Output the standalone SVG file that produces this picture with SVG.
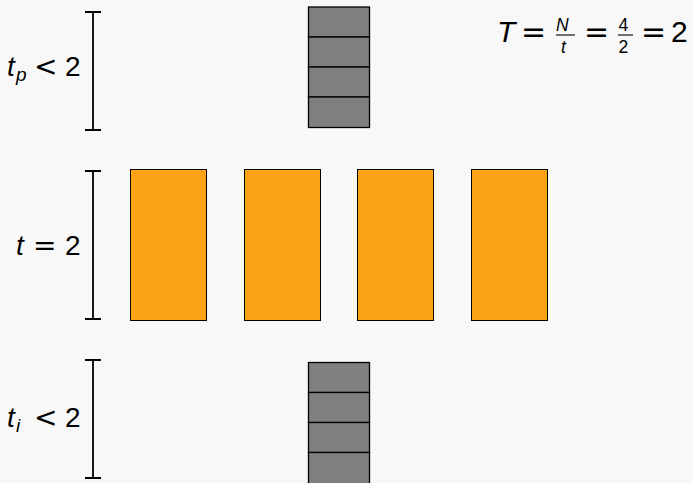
<svg xmlns="http://www.w3.org/2000/svg" width="693" height="483" viewBox="0 0 693 483">
<style>
.bg{fill:#f8f8f8}
.bar{stroke:#000;stroke-width:1.8;fill:none}
.cell{fill:#7f7f7f;stroke:#000;stroke-width:1.3}
.job{fill:#fca315;stroke:#000;stroke-width:1}
.it{font-family:"Liberation Sans",Arial,sans-serif;font-style:italic;fill:#000}
.rm{font-family:"Liberation Sans",Arial,sans-serif;fill:#000}
.sym{font-family:"DejaVu Sans",sans-serif;fill:#000}
.frac{stroke:#000;stroke-width:1.1}
</style>
<rect class="bg" x="0" y="0" width="693" height="483"/>
<g id="bar-top">
<path class="bar" d="M85,12H101M93,12V130M85,130H101"/>
</g>
<g id="bar-mid">
<path class="bar" d="M85,171H101M93,171V319M85,319H101"/>
</g>
<g id="bar-bot">
<path class="bar" d="M85,360H101M93,360V478M85,478H101"/>
</g>
<g id="stack-top">
<rect class="cell" x="308.5" y="7" width="61" height="30"/>
<rect class="cell" x="308.5" y="37" width="61" height="30"/>
<rect class="cell" x="308.5" y="67" width="61" height="30"/>
<rect class="cell" x="308.5" y="97" width="61" height="30.5"/>
</g>
<g id="jobs">
<rect class="job" x="130.5" y="169.5" width="76" height="151"/>
<rect class="job" x="244.5" y="169.5" width="76" height="151"/>
<rect class="job" x="357.5" y="169.5" width="76" height="151"/>
<rect class="job" x="471.5" y="169.5" width="76" height="151"/>
</g>
<g id="stack-bot">
<rect class="cell" x="308.5" y="362.5" width="61" height="30"/>
<rect class="cell" x="308.5" y="392.5" width="61" height="30"/>
<rect class="cell" x="308.5" y="422.5" width="61" height="30"/>
<rect class="cell" x="308.5" y="452.5" width="61" height="32"/>
</g>
<g id="label-tp">
<text class="it" x="7" y="76" font-size="28">t</text>
<text class="it" x="16" y="81" font-size="19">p</text>
<text class="sym" x="34" y="76" font-size="28">&lt;</text>
<text class="rm" x="65" y="76" font-size="28">2</text>
</g>
<g id="label-t">
<text class="it" x="16" y="255" font-size="28">t</text>
<text class="sym" x="33" y="255" font-size="28">=</text>
<text class="rm" x="65" y="255" font-size="28">2</text>
</g>
<g id="label-ti">
<text class="it" x="7" y="427" font-size="28">t</text>
<text class="it" x="16" y="432" font-size="19">i</text>
<text class="sym" x="34" y="427" font-size="28">&lt;</text>
<text class="rm" x="65" y="427" font-size="28">2</text>
</g>
<g id="equation">
<text class="it" x="497" y="42" font-size="30">T</text>
<text class="sym" x="521" y="42" font-size="30">=</text>
<text class="it" x="556" y="31" font-size="17.5">N</text>
<line class="frac" x1="556" y1="35" x2="575" y2="35"/>
<text class="it" x="561" y="53" font-size="17.5">t</text>
<text class="sym" x="584" y="42" font-size="30">=</text>
<text class="rm" x="618.5" y="31" font-size="17.5">4</text>
<line class="frac" x1="618" y1="35" x2="633" y2="35"/>
<text class="rm" x="618.5" y="53" font-size="17.5">2</text>
<text class="sym" x="641" y="42" font-size="30">=</text>
<text class="rm" x="671" y="42" font-size="30">2</text>
</g>
</svg>
